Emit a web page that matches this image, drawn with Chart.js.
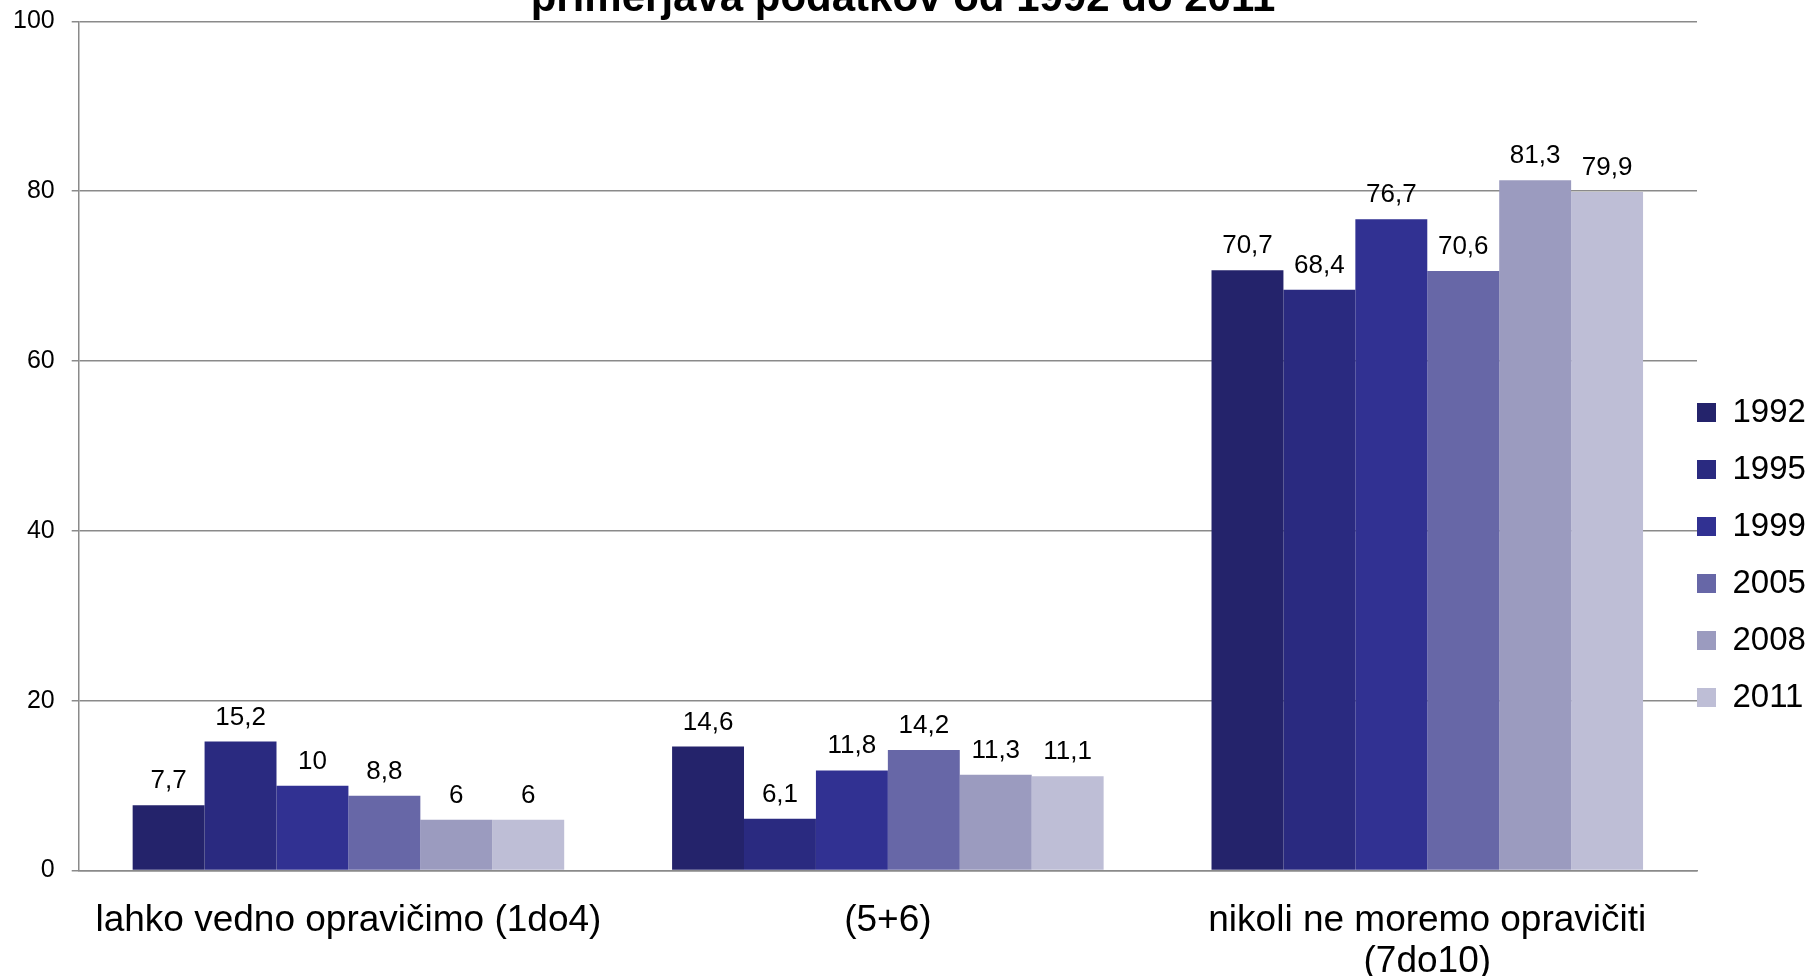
<!DOCTYPE html>
<html>
<head>
<meta charset="utf-8">
<style>
  html, body { margin: 0; padding: 0; background: #ffffff; }
  #wrap { width: 1810px; height: 976px; }
</style>
<script src="https://cdn.jsdelivr.net/npm/chart.js@4"></script>
</head>
<body>
<div id="wrap"><canvas id="c" width="1810" height="976"></canvas></div>
<script>
const categories = [
  'lahko vedno opravičimo (1do4)',
  '(5+6)',
  ['nikoli ne moremo opravičiti', '(7do10)']
];
const seriesNames = ['1992', '1995', '1999', '2005', '2008', '2011'];
const v1992 = [7.7, 14.6, 70.7];
const v1995 = [15.2, 6.1, 68.4];
const v1999 = [10, 11.8, 76.7];
const v2005 = [8.8, 14.2, 70.6];
const v2008 = [6, 11.3, 81.3];
const v2011 = [6, 11.1, 79.9];
const yTicks = [0, 20, 40, 60, 80, 100];
const titleText = 'primerjava podatkov od 1992 do 2011';

const seriesValues = [v1992, v1995, v1999, v2005, v2008, v2011];
const seriesColors = ['#24236b', '#2a2a80', '#313192', '#6767a7', '#9b9bbf', '#bebed6'];

const FONT = '"Liberation Sans", Arial, sans-serif';

const valueLabels = {
  id: 'valueLabels',
  afterDatasetsDraw(chart) {
    const ctx = chart.ctx;
    ctx.save();
    ctx.font = '26px ' + FONT;
    ctx.fillStyle = '#000000';
    ctx.textAlign = 'center';
    ctx.textBaseline = 'alphabetic';
    chart.data.datasets.forEach((ds, i) => {
      const meta = chart.getDatasetMeta(i);
      meta.data.forEach((bar, j) => {
        ctx.fillText(String(ds.data[j]).replace('.', ','), bar.x, bar.y - 17);
      });
    });
    ctx.restore();
  }
};

const legendShift = {
  id: 'legendShift',
  afterLayout(chart) {
    const lg = chart.legend;
    if (!lg) return;
    lg.left -= 24;
    lg.top += 53; lg.bottom += 53;
  }
};

new Chart(document.getElementById('c'), {
  type: 'bar',
  data: {
    labels: categories,
    datasets: seriesNames.map((name, i) => ({
      label: name,
      data: seriesValues[i],
      backgroundColor: seriesColors[i],
      borderWidth: 0,
      categoryPercentage: 0.8,
      barPercentage: 1.0
    }))
  },
  options: {
    responsive: false,
    animation: false,
    layout: { padding: { left: -4, right: 0, top: 0, bottom: -28 } },
    plugins: {
      title: {
        display: true,
        text: titleText,
        color: '#000000',
        font: { family: FONT, size: 42, weight: 'bold', lineHeight: 1.2 },
        padding: { top: -37, bottom: -3 }
      },
      legend: {
        position: 'right',
        maxWidth: 113,
        labels: {
          color: '#000000',
          font: { family: FONT, size: 33 },
          boxWidth: 19,
          boxHeight: 19,
          padding: 24
        }
      },
      tooltip: { enabled: false }
    },
    scales: {
      x: {
        grid: { display: false },
        border: { display: true, color: '#8a8a8a', width: 1.5 },
        ticks: {
          color: '#000000',
          font: { family: FONT, size: 37, lineHeight: 1.1 },
          padding: 22,
          maxRotation: 0,
          autoSkip: false
        }
      },
      y: {
        min: 0,
        max: 100,
        afterBuildTicks(scale) { scale.ticks = yTicks.map(v => ({ value: v })); },
        grid: { color: '#8a8a8a', lineWidth: 1.5, tickLength: 7 },
        border: { display: true, color: '#8a8a8a', width: 1.5 },
        ticks: {
          color: '#000000',
          font: { family: FONT, size: 25, lineHeight: 0.35 },
          padding: 17
        }
      }
    }
  },
  plugins: [valueLabels, legendShift]
});
</script>
</body>
</html>
